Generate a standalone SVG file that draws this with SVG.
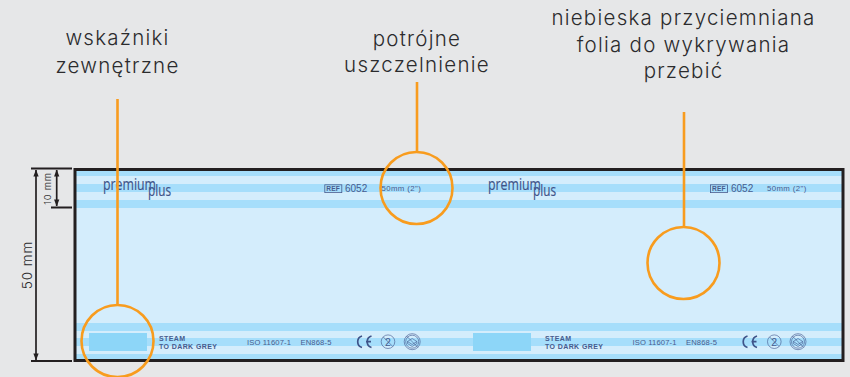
<svg xmlns="http://www.w3.org/2000/svg" width="850" height="377" viewBox="0 0 850 377">
<defs>
<style>
.lbl{font-family:Inter,"Liberation Sans",sans-serif;font-size:20.5px;letter-spacing:1.25px;fill:#2b2b2d;text-anchor:middle;font-weight:300}
.dim{font-family:Inter,"Liberation Sans",sans-serif;fill:#2b2b2d;text-anchor:middle;font-weight:300}
.band{fill:#a6defb}
.blue{font-family:"Liberation Sans",sans-serif;fill:#465b8e}
.bold{font-weight:700;font-size:7px;letter-spacing:.4px}
.iso{font-size:7.6px;letter-spacing:.15px}
.size{font-size:7.8px;letter-spacing:.4px}
.refb{font-size:6.600px;font-weight:700;letter-spacing:.2px}
.num{font-size:10px}
.logo{font-family:"Open Sans",sans-serif;fill:#3e5389;font-size:15.500px;stroke:#3e5389;stroke-width:.15}
.ring{fill:none;stroke:#f89c1e;stroke-width:2.6}
.sym{fill:none;stroke:#3e5389;stroke-width:.6}
.ce{fill:none;stroke:#3e5389;stroke-width:1.7}
.or{stroke:#f89c1e;stroke-width:2.6;fill:none}
.blk{stroke:#231f20;stroke-width:1.7;fill:none}
.tick{stroke:#231f20;stroke-width:1.9;fill:none}
</style>
<marker id="ah" viewBox="0 0 8 8" refX="7.5" refY="4" markerWidth="7" markerHeight="7" markerUnits="userSpaceOnUse" orient="auto-start-reverse"><path d="M0 1L8 4L0 7Z" fill="#231f20"/></marker>
</defs>
<rect width="850" height="377" fill="#e6e7e8"/>
<g id="strip">
<rect x="75" y="170" width="768" height="191" fill="#d4edfc"/>
<rect class="band" x="75" y="171" width="768" height="5"/>
<rect class="band" x="75" y="184" width="768" height="8"/>
<rect class="band" x="75" y="200" width="768" height="8"/>
<rect class="band" x="75" y="323" width="768" height="8"/>
<rect class="band" x="75" y="338" width="768" height="8"/>
<rect class="band" x="75" y="354" width="768" height="6"/>
<rect x="89" y="333" width="58" height="18" fill="#8dd6f8"/>
<rect x="473" y="333" width="58" height="18" fill="#8dd6f8"/>
<text class="logo" x="103" y="190" textLength="53" lengthAdjust="spacingAndGlyphs">premium</text>
<text class="logo" x="148" y="196" textLength="23" lengthAdjust="spacingAndGlyphs">plus</text>
<text class="logo" x="488" y="190" textLength="53" lengthAdjust="spacingAndGlyphs">premium</text>
<text class="logo" x="533" y="196" textLength="23" lengthAdjust="spacingAndGlyphs">plus</text>
<rect x="324.800" y="184.800" width="17" height="7.800" fill="none" stroke="#465b8e" stroke-width=".8"/>
<text class="blue refb" x="326.300" y="191">REF</text>
<text class="blue num" x="345" y="192.300">6052</text>
<text class="blue size" x="381.500" y="191">50mm (2")</text>
<rect x="710.500" y="184.800" width="17" height="7.800" fill="none" stroke="#465b8e" stroke-width=".8"/>
<text class="blue refb" x="712" y="191">REF</text>
<text class="blue num" x="731" y="192.300">6052</text>
<text class="blue size" x="767" y="191">50mm (2")</text>
<text class="blue bold" x="159" y="340.500">STEAM</text>
<text class="blue bold" x="159" y="349">TO DARK GREY</text>
<text class="blue bold" x="545" y="340.500">STEAM</text>
<text class="blue bold" x="545" y="349">TO DARK GREY</text>
<text class="blue iso" x="247" y="344.700">ISO 11607-1</text>
<text class="blue iso" x="300.500" y="344.700">EN868-5</text>
<text class="blue iso" x="632.500" y="344.700">ISO 11607-1</text>
<text class="blue iso" x="686" y="344.700">EN868-5</text>
<g id="sym-a">
<path class="ce" d="M362 336a6 6 0 0 0 0 11.500M371.500 336a6 6 0 0 0 0 11.500M366 341.700h5"/>
<circle class="sym" cx="388" cy="341.700" r="6.800"/><path class="sym" d="M383.200 336.900l9.600 9.600"/><text class="blue" x="385" y="345.500" font-size="10.500">2</text>
<circle class="sym" cx="412.200" cy="341.700" r="8"/><circle class="sym" cx="412.200" cy="341.700" r="6.500"/><path class="sym" d="M406.500 336l11.400 11.400M407.500 341.500l4.700-3 4.700 3-4.700 3zM407.500 341.500v2l4.700 3 4.700-3v-2"/>
</g>
<g id="sym-b">
<path class="ce" d="M747.500 336a6 6 0 0 0 0 11.500M757 336a6 6 0 0 0 0 11.500M751.500 341.700h5"/>
<circle class="sym" cx="774.300" cy="341.700" r="6.800"/><path class="sym" d="M769.500 336.900l9.600 9.600"/><text class="blue" x="771.300" y="345.500" font-size="10.500">2</text>
<circle class="sym" cx="798" cy="341.700" r="8"/><circle class="sym" cx="798" cy="341.700" r="6.500"/><path class="sym" d="M792.300 336l11.400 11.400M793.300 341.500l4.700-3 4.700 3-4.700 3zM793.300 341.500v2l4.700 3 4.700-3v-2"/>
</g>
<rect x="75" y="169.500" width="768" height="191" fill="none" stroke="#231f20" stroke-width="3"/>
</g>
<g id="dimensions">
<path class="tick" d="M31 168.500H72M31 361H72M51 207.500H72"/>
<path class="blk" d="M36 170V360" marker-start="url(#ah)" marker-end="url(#ah)"/>
<path class="blk" d="M56.700 170V206" marker-start="url(#ah)" marker-end="url(#ah)"/>
<text class="dim" font-size="13.500" letter-spacing="1" transform="translate(32 265) rotate(-90)">50 mm</text>
<text class="dim" font-size="9.500" letter-spacing=".7" transform="translate(50.500 188.500) rotate(-90)">10 mm</text>
</g>
<g id="connectors">
<path class="or" d="M117.500 99V305"/>
<path class="or" d="M417 82V151"/>
<path class="or" d="M684 112V227"/>
</g>
<g id="node-indicators">
<circle class="ring" cx="117.500" cy="341" r="36"/>
<text class="lbl" x="117.500" y="45">wskaźniki</text>
<text class="lbl" x="117.500" y="73">zewnętrzne</text>
</g>
<g id="node-seal">
<circle class="ring" cx="416.500" cy="188" r="36"/>
<text class="lbl" x="417" y="46">potrójne</text>
<text class="lbl" x="417" y="72">uszczelnienie</text>
</g>
<g id="node-film">
<circle class="ring" cx="683.500" cy="263" r="36"/>
<text class="lbl" x="683.500" y="25">niebieska przyciemniana</text>
<text class="lbl" x="683.500" y="52">folia do wykrywania</text>
<text class="lbl" x="683.500" y="78">przebić</text>
</g>
</svg>
